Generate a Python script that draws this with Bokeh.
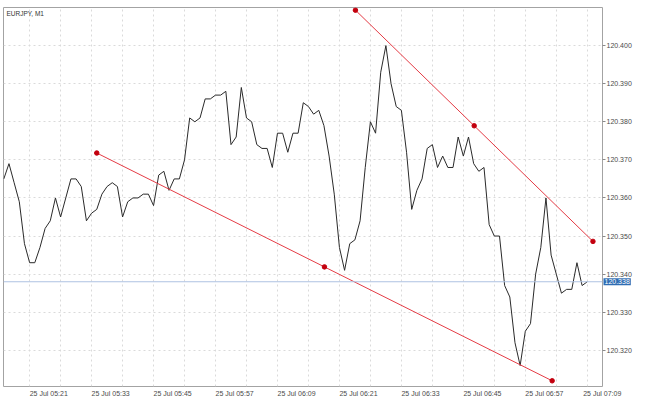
from bokeh.plotting import figure
from bokeh.models import FixedTicker, Span, Label, Range1d
from bokeh.embed import file_html
from bokeh.resources import INLINE

# ---------------- data ----------------
chart_title = "EURJPY, M1"
first_bar_time = "25 Jul 05:16"

close = [
    120.365, 120.369, 120.364, 120.359, 120.348, 120.343, 120.343, 120.347,
    120.352, 120.354, 120.360, 120.355, 120.360, 120.365, 120.365, 120.363,
    120.354, 120.356, 120.357, 120.361, 120.363, 120.364, 120.363, 120.355,
    120.359, 120.360, 120.360, 120.361, 120.361, 120.358, 120.366, 120.367,
    120.362, 120.365, 120.365, 120.370, 120.381, 120.380, 120.381, 120.386,
    120.386, 120.387, 120.387, 120.388, 120.374, 120.376, 120.389, 120.381,
    120.380, 120.374, 120.373, 120.373, 120.368, 120.377, 120.377, 120.372,
    120.377, 120.377, 120.385, 120.384, 120.382, 120.383,
    120.379, 120.371, 120.361, 120.347, 120.341, 120.348, 120.349, 120.354,
    120.368, 120.380, 120.377, 120.393, 120.400, 120.390, 120.384, 120.383,
    120.372, 120.357, 120.362, 120.365, 120.373, 120.374, 120.368, 120.371,
    120.368, 120.368, 120.376, 120.371, 120.376, 120.369, 120.367, 120.368,
    120.353, 120.350, 120.350, 120.337, 120.334, 120.322, 120.316, 120.325,
    120.327, 120.340, 120.347, 120.360, 120.345, 120.340, 120.335, 120.336,
    120.336, 120.343, 120.337, 120.338,
]

x_tick_bars = [5, 17, 29, 41, 53, 65, 77, 89, 101, 113]
x_tick_labels = ["25 Jul 05:21", "25 Jul 05:33", "25 Jul 05:45", "25 Jul 05:57",
                 "25 Jul 06:09", "25 Jul 06:21", "25 Jul 06:33", "25 Jul 06:45",
                 "25 Jul 06:57", "25 Jul 07:09"]
x_grid_bars = [5, 11, 17, 23, 29, 35, 41, 47, 53, 59, 65, 71, 77, 83, 89, 95,
               101, 107, 113]

y_ticks = [120.32, 120.33, 120.34, 120.35, 120.36, 120.37, 120.38, 120.39, 120.40]
y_tick_labels = ["120.320", "120.330", "120.340", "120.350", "120.360",
                 "120.370", "120.380", "120.390", "120.400"]

last_price = 120.338
last_price_label = "120.338"

lower_line_bars = [18.0, 106.2]
lower_line_prices = [120.3718, 120.3120]
upper_line_bars = [68.1, 114.1]
upper_line_prices = [120.4093, 120.3486]

# ---------------- figure ----------------
FONT = "Liberation Sans"
bars = list(range(len(close)))
X0, X1 = -0.06, 115.95
# time labels start at their tick (MetaTrader style): shift label anchor by half a label width
LABEL_SHIFT = 3.7

p = figure(width=634, height=399, output_backend="svg", toolbar_location=None,
           x_range=Range1d(X0, X1), y_range=Range1d(120.3105, 120.410),
           y_axis_location="right",
           min_border_left=3, min_border_top=3, min_border_right=0, min_border_bottom=0)

p.background_fill_color = "white"
p.border_fill_color = "white"
p.outline_line_color = "#a3a3a3"
p.outline_line_width = 1

# grids
p.xgrid.ticker = FixedTicker(ticks=x_grid_bars)
p.ygrid.ticker = FixedTicker(ticks=y_ticks)
for g in (p.xgrid, p.ygrid):
    g.grid_line_color = "#dadada"
    g.grid_line_dash = "2 3"
    g.grid_line_width = 1

# x axis
xa = p.xaxis[0]
shifted = [b + min(LABEL_SHIFT, X1 - b - 0.05) for b in x_tick_bars]
xa.ticker = FixedTicker(ticks=shifted)
xa.major_label_overrides = {s: t for s, t in zip(shifted, x_tick_labels)}
xa.major_tick_line_color = None
xa.major_tick_in = 0
xa.major_tick_out = 0
xa.minor_tick_line_color = None
xa.minor_tick_out = 0
xa.axis_line_color = None
xa.major_label_standoff = 3
xa.major_label_text_font = FONT
xa.major_label_text_font_size = "7px"
xa.major_label_text_color = "#4a4a4a"

# y axis
ya = p.yaxis[0]
ya.ticker = FixedTicker(ticks=y_ticks)
ya.major_label_overrides = {t: s for t, s in zip(y_ticks, y_tick_labels)}
ya.axis_line_color = None
ya.minor_tick_line_color = None
ya.major_tick_in = 0
ya.major_tick_out = 3
ya.major_tick_line_color = "#8a8a8a"
ya.major_label_standoff = 1
ya.major_label_text_font = FONT
ya.major_label_text_font_size = "7px"
ya.major_label_text_color = "#4a4a4a"

# last-price line
p.add_layout(Span(location=last_price, dimension="width",
                  line_color="#aec2e2", line_width=1))

# price series
p.line(bars, close, line_color="#2a2a2a", line_width=1)

# trend lines with anchor dots
for bx, py in ((lower_line_bars, lower_line_prices), (upper_line_bars, upper_line_prices)):
    p.line(bx, py, line_color="#e43b45", line_width=1)
    dots_x = [bx[0], (bx[0] + bx[1]) / 2, bx[1]]
    dots_y = [py[0], (py[0] + py[1]) / 2, py[1]]
    p.scatter(dots_x, dots_y, size=4.5, fill_color="#c3000e", line_color="#c3000e")

# title
p.add_layout(Label(x=X0, y=120.410, text=chart_title, x_offset=3, y_offset=-2,
                   text_baseline="top", text_align="left", text_font=FONT,
                   text_font_size="6.5px", text_color="#333333"))

# last price tag on the price axis; hosted in a side panel so that it is not
# clipped to the frame (its position still comes from the data scales)
p.add_layout(Label(x=X1, y=last_price, text=last_price_label, x_offset=1,
                   text_baseline="middle", text_align="left", text_font=FONT,
                   text_font_size="7px", text_line_height=1.0, text_color="white",
                   background_fill_color="#2f6db3", padding=1), "above")

open("out.html", "w").write(file_html(p, INLINE))
